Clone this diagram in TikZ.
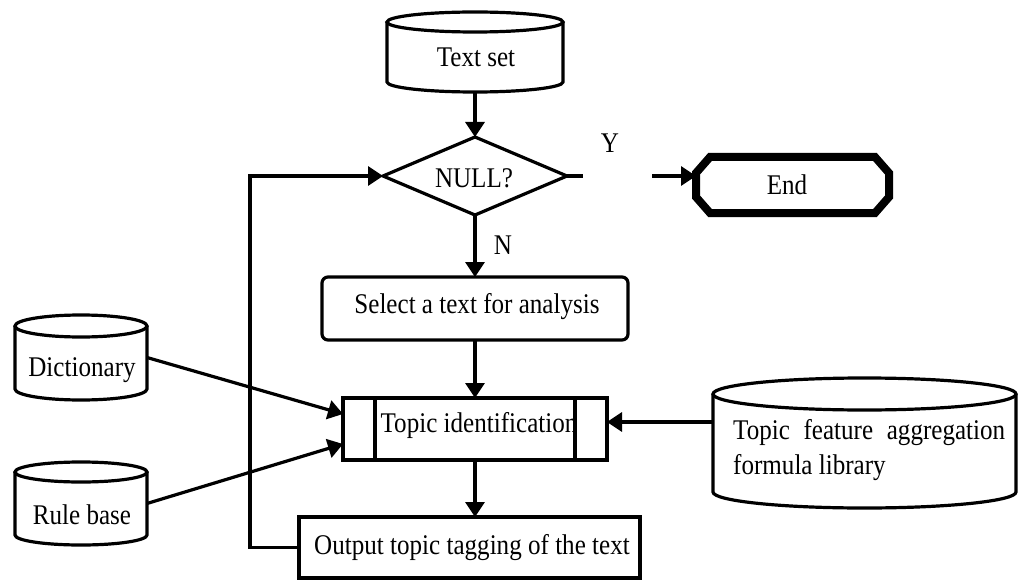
\documentclass[tikz,border=0pt]{standalone}
\usepackage{fontspec}
\setmainfont{Liberation Serif}[FakeStretch=0.88]
\usetikzlibrary{arrows.meta,calc}

\tikzset{
  ln/.style={line width=3.2pt},
  arr/.style={ln, -{Triangle[length=15pt,width=19pt]}},
  hold/.style={inner sep=0pt, outer sep=0pt},
  boxed/.style={draw, ln, inner sep=0pt, outer sep=0pt},
  txt/.style={inner sep=0pt},
}

% storage drum: left, top, right, bottom, cap half-height
\newcommand\drum[5]{%
  \pgfmathsetmacro\drumrx{(#3-#1)/2}%
  \draw[ln] (#1,#2+#5) -- (#1,#4-#5)
    arc[start angle=180,end angle=360,x radius=\drumrx pt,y radius=#5pt]
    -- (#3,#2+#5);
  \draw[ln] ({(#1+#3)/2},#2+#5) ellipse[x radius=\drumrx pt,y radius=#5pt];
}

\begin{document}
\begin{tikzpicture}[x=1pt,y=-1pt,
  every node/.style={font=\fontsize{28.5}{35}\selectfont}]
\useasboundingbox (0,0) rectangle (1019,580);

% data stores
\drum{387}{12}{563}{92}{10}
\node[hold, minimum width=176pt, minimum height=80pt] (tset) at (475,52) {};
\node[txt] (tsett) at (476,57) {Text set};

\drum{15}{315}{147}{400}{11}
\node[hold, minimum width=132pt, minimum height=85pt] (dict) at (81,357.5) {};
\node[txt] (dictt) at (82,370) {Dictionary};

\drum{15}{462}{147}{545}{10}
\node[hold, minimum width=132pt, minimum height=83pt] (rule) at (81,503.5) {};
\node[txt] (rulet) at (82,515) {Rule base};

\drum{713}{378}{1016}{508}{16}
\node[hold, minimum width=303pt, minimum height=130pt] (tfa) at (864.5,443) {};
\node[txt, anchor=west, align=left] (tfat) at (733,450)
  {\makebox[272pt][s]{Topic feature aggregation}\\formula library};

% decision
\node[hold, minimum width=184pt, minimum height=78pt] (dec) at (475,176) {};
\draw[ln, line join=miter] (dec.north) -- (dec.east) -- (dec.south) -- (dec.west) -- cycle;
\node[txt] (dect) at (474,178) {NULL?};

% terminal
\node[hold, minimum width=193pt, minimum height=56pt] (endn) at (792.5,185) {};
\draw[line width=8pt, line join=miter]
  ($(endn.north west)+(14,0)$) -- ($(endn.north east)+(-14,0)$)
  -- ($(endn.north east)+(0,16)$) -- ($(endn.south east)+(0,-16)$)
  -- ($(endn.south east)+(-14,0)$) -- ($(endn.south west)+(14,0)$)
  -- ($(endn.south west)+(0,-16)$) -- ($(endn.north west)+(0,16)$) -- cycle;
\node[txt] (endt) at (787,185) {End};

% process steps
\node[boxed, rounded corners=6pt, minimum width=306pt, minimum height=63pt] (sel) at (475,308.5) {};
\node[txt] (selt) at (477,307) {Select a text for analysis};

\node[boxed, minimum width=264pt, minimum height=62pt] (topic) at (475,429) {};
\draw[ln] ($(topic.north west)+(32,0)$) -- ($(topic.south west)+(32,0)$);
\draw[ln] ($(topic.north east)+(-32,0)$) -- ($(topic.south east)+(-32,0)$);
\node[txt] (topict) at (479,425) {Topic identification};

\node[boxed, minimum width=341pt, minimum height=61pt] (out) at (469.5,547.5) {};
\node[txt] (outt) at (472,548) {Output topic tagging of the text};

% branch labels
\node[txt] (ylab) at (610,143) {Y};
\node[txt] (nlab) at (503,245) {N};

% flow
\draw[arr] (tset.south) -- (dec.north);
\draw[arr] (dec.south) -- (sel.north);
\draw[arr] (sel.south) -- (topic.north);
\draw[arr] (topic.south) -- (topic.south |- out.north);

\coordinate (ystub) at (583,176);
\coordinate (ygap) at (652,176);
\draw[ln] (dec.east) -- (ystub);
\draw[arr] (ygap) -- (ygap -| endn.west);

\draw[arr] (out.west) -- ++(-49,0) |- (dec.west);

\draw[arr] (dict.east) -- ($(topic.west)+(0,-15)$);
\draw[arr] (rule.east) -- ($(topic.west)+(0,15)$);
\coordinate (tin) at ($(topic.east)+(0,-7)$);
\draw[arr] (tin -| tfa.west) -- (tin);
\end{tikzpicture}
\end{document}
